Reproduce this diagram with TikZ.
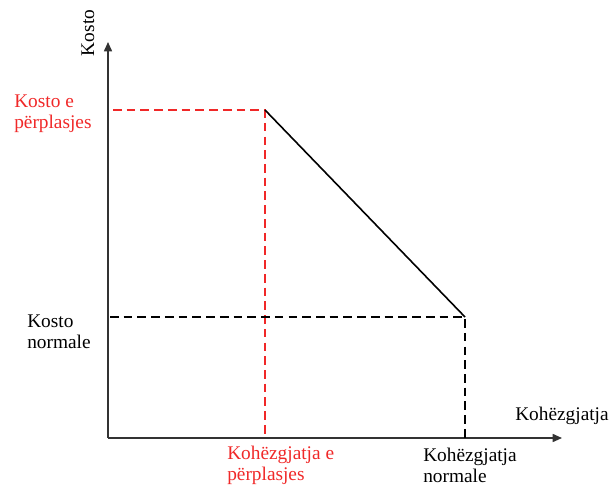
\documentclass[tikz,border=0pt]{standalone}
\usepackage{fontspec}
\setmainfont{Liberation Serif}
\usetikzlibrary{arrows.meta}
\definecolor{costred}{RGB}{240,40,40}
\begin{document}
\begin{tikzpicture}[x=0.75pt,y=-0.75pt,
  axis/.style={line width=1.2pt,draw=black!80,-{Triangle[length=7pt,width=6pt]}},
  guide/.style={dash pattern=on 6.5pt off 3.8pt,line width=2pt},
  lbl/.style={font=\fontsize{14.5}{15.5}\selectfont,inner sep=0pt,align=left},
  every node/.style={inner sep=0pt}]
\useasboundingbox (0,0) rectangle (609,488);
% axes
\coordinate (O) at (108,438);
\coordinate (ytop) at (108,42);
\coordinate (xend) at (562,438);
\draw[axis] (O) -- (ytop);
\draw[axis] (O) -- (xend);
% key points
\coordinate (crash) at (265,110);
\coordinate (normal) at (465,317);
\coordinate (yc) at (113,110);
\coordinate (yn) at (110,317);
\coordinate (xc) at (265,438);
\coordinate (xn) at (465,438);
% guide lines
\draw[guide,costred] (yc) -- (crash) -- (xc);
\draw[guide,black] (yn) -- (normal) -- (xn);
% cost-duration line
\draw[line width=1.2pt] (crash) -- (normal);
% labels
\node[lbl,rotate=90] (ylab) at (88,33) {Kosto};
\node[lbl,anchor=west] (xlab) at (515,416) {Kohëzgjatja};
\node[lbl,anchor=west,text=costred] (kc) at (14,114) {Kosto e\\përplasjes};
\node[lbl,anchor=west] (kn) at (27,332) {Kosto\\normale};
\node[lbl,anchor=north west,text=costred] (dc) at (227,446) {Kohëzgjatja e\\përplasjes};
\node[lbl,anchor=north west] (dn) at (423,448) {Kohëzgjatja\\normale};
\end{tikzpicture}
\end{document}
